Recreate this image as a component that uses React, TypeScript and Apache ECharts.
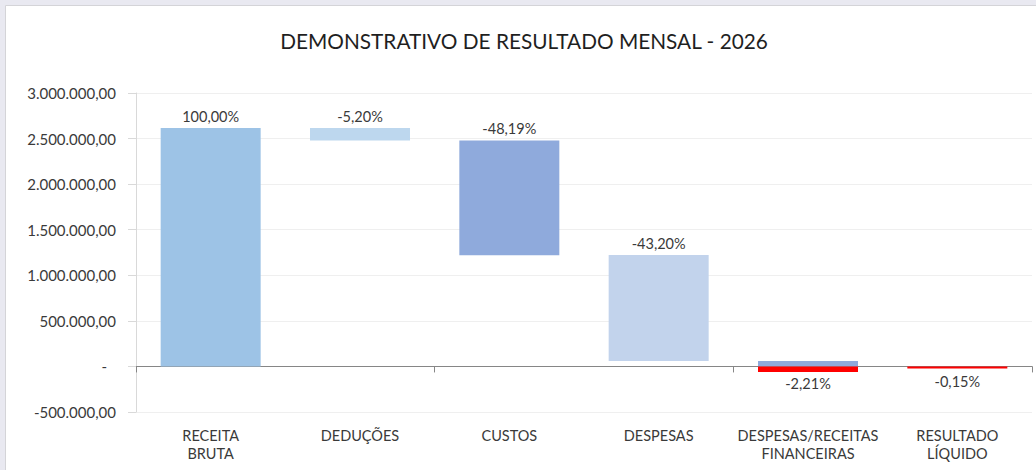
import React, { useEffect, useRef } from "react";
import * as echarts from "echarts";

const titleText = "DEMONSTRATIVO DE RESULTADO MENSAL - 2026";
const categories = [
  "RECEITA\nBRUTA",
  "DEDUÇÕES",
  "CUSTOS",
  "DESPESAS",
  "DESPESAS/RECEITAS\nFINANCEIRAS",
  "RESULTADO\nLÍQUIDO",
];
const baseValues = [0, 2480000, 1219000, 59000, 0, 0];
const stepValues = [2616000, 136000, 1261000, 1163000, 59000, 0];
const negativeValues = [0, 0, 0, 0, -61000, -4000];
const percentLabels = ["100,00%", "-5,20%", "-48,19%", "-43,20%", "-2,21%", "-0,15%"];
const barColors = ["#9dc3e6", "#bdd7ee", "#8faadc", "#c2d3ec", "#8faadc", "#8faadc"];
const negativeColor = "#ff0000";
const yMin = -500000;
const yMax = 3000000;
const yStep = 500000;

const FONT = "Lato";

function formatBR(v: number): string {
  if (v === 0) return "{z|-}";
  const neg = v < 0;
  const s = Math.abs(Math.round(v)).toString().replace(/\B(?=(\d{3})+(?!\d))/g, ".");
  return (neg ? "-" : "") + s + ",00";
}

export default function App() {
  const ref = useRef<HTMLDivElement>(null);
  useEffect(() => {
    if (!ref.current) return;
    const chart = echarts.init(ref.current, undefined, { renderer: "svg" });
    const option: any = {
      animation: false,
      backgroundColor: "#e9e9f1",
      graphic: [
        {
          type: "rect",
          z: -10,
          silent: true,
          shape: { x: 5.5, y: 5.5, width: 1040, height: 480 },
          style: { fill: "#ffffff", stroke: "#d4d4d8", lineWidth: 1 },
        },
      ],
      title: {
        text: titleText,
        left: 519,
        top: 25,
        textAlign: "center",
        textStyle: { fontFamily: FONT, fontSize: 20.8, fontWeight: "normal", color: "#1f1f1f" },
      },
      grid: { left: 136, right: 4, top: 93, bottom: 58, containLabel: false },
      xAxis: [
        {
          type: "category",
          data: categories,
          position: "bottom",
          axisLine: { show: false, onZero: false },
          axisTick: { show: false },
          axisLabel: {
            margin: 14,
            fontFamily: FONT,
            fontSize: 14.5,
            color: "#3a3a3a",
            lineHeight: 18,
            interval: 0,
          },
          splitLine: { show: false },
        },
        {
          type: "category",
          data: categories,
          position: "bottom",
          axisLine: { show: true, onZero: true, lineStyle: { color: "#868686", width: 1 } },
          axisTick: { show: true, length: 6, alignWithLabel: false, lineStyle: { color: "#868686" } },
          axisLabel: { show: false },
          splitLine: { show: false },
        },
      ],
      yAxis: {
        type: "value",
        min: yMin,
        max: yMax,
        interval: yStep,
        axisLine: { show: true, lineStyle: { color: "#d9d9d9" } },
        axisTick: { show: true, length: 8, lineStyle: { color: "#d9d9d9" } },
        splitLine: { show: true, lineStyle: { color: "#efefef", width: 1 } },
        axisLabel: {
          margin: 20,
          fontFamily: FONT,
          fontSize: 15,
          color: "#3a3a3a",
          formatter: (v: number) => formatBR(v),
          rich: { z: { fontFamily: FONT, fontSize: 15, color: "#3a3a3a", padding: [0, 9, 0, 0] } },
        },
      },
      series: [
        {
          name: "base",
          type: "bar",
          stack: "w",
          barWidth: 100,
          silent: true,
          itemStyle: { color: "transparent" },
          data: baseValues,
        },
        {
          name: "valor",
          type: "bar",
          stack: "w",
          barWidth: 100,
          data: stepValues.map((v, i) => ({
            value: v === 0 ? "-" : v,
            itemStyle: { color: barColors[i] },
            label: {
              show: i < 4,
              position: "top",
              distance: 4,
              formatter: () => percentLabels[i],
              fontFamily: FONT,
              fontSize: 14.5,
              color: "#3a3a3a",
            },
          })),
        },
        {
          name: "negativo",
          type: "bar",
          stack: "w",
          barWidth: 100,
          barMinHeight: 2,
          data: negativeValues.map((v, i) => ({
            value: v === 0 ? "-" : v,
            itemStyle: { color: negativeColor },
            label: {
              show: i >= 4,
              position: "bottom",
              distance: i === 4 ? 4 : 6,
              formatter: () => percentLabels[i],
              fontFamily: FONT,
              fontSize: 14.5,
              color: "#3a3a3a",
            },
          })),
        },
      ],
    };
    chart.setOption(option);
    return () => chart.dispose();
  }, []);
  return (
    <div
      ref={ref}
      style={{ position: "fixed", left: 0, top: 0, width: 1036, height: 470 }}
    />
  );
}
